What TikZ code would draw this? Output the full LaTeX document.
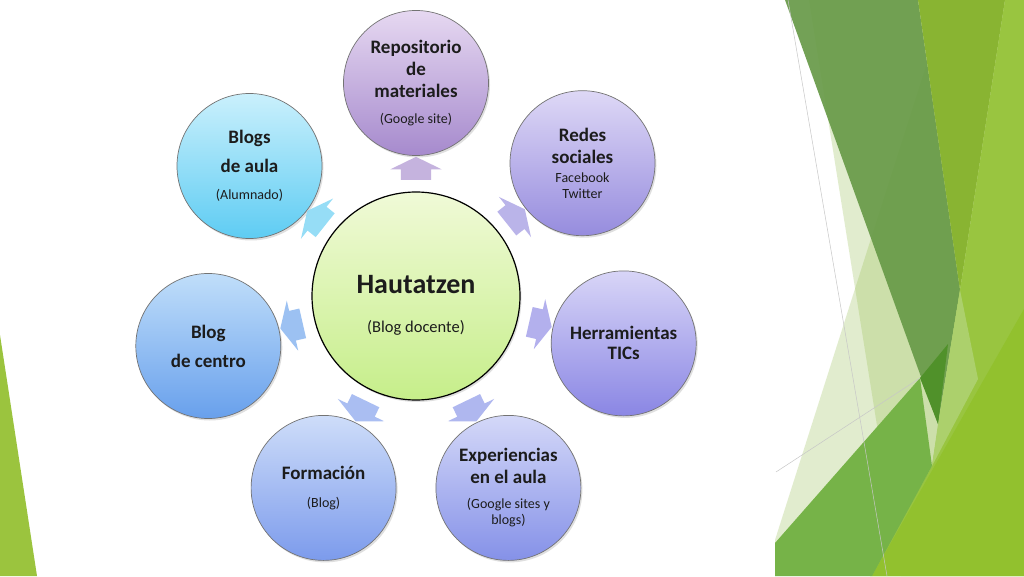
\documentclass[tikz,border=0pt]{standalone}
\usepackage{fontspec}
\setmainfont{Carlito}
\usetikzlibrary{shapes.arrows,shadows,calc}

\definecolor{inkgray}{RGB}{28,28,28}
\definecolor{hubtop}{RGB}{240,250,215}
\definecolor{hubbot}{RGB}{198,238,138}
\definecolor{repotop}{RGB}{230,216,241}
\definecolor{repobot}{RGB}{166,138,205}
\definecolor{redestop}{RGB}{222,216,246}
\definecolor{redesbot}{RGB}{150,140,222}
\definecolor{herrtop}{RGB}{216,213,247}
\definecolor{herrbot}{RGB}{138,134,228}
\definecolor{exptop}{RGB}{212,216,248}
\definecolor{expbot}{RGB}{133,145,232}
\definecolor{formtop}{RGB}{206,221,249}
\definecolor{formbot}{RGB}{124,155,236}
\definecolor{centrotop}{RGB}{192,222,250}
\definecolor{centrobot}{RGB}{104,160,236}
\definecolor{aulatop}{RGB}{202,240,252}
\definecolor{aulabot}{RGB}{94,204,243}
\definecolor{leafgreen}{RGB}{155,196,62}
\definecolor{palegreen}{RGB}{150,190,80}
\definecolor{bandgreen}{RGB}{104,154,72}
\definecolor{olivegreen}{RGB}{137,180,50}
\definecolor{brightgreen}{RGB}{153,197,64}
\definecolor{stripgreen}{RGB}{172,208,108}
\definecolor{lowgreen}{RGB}{146,193,46}
\definecolor{midgreen}{RGB}{118,179,72}
\definecolor{deepgreen}{RGB}{80,145,42}

\newcommand{\titletxt}{\fontsize{19}{22}\selectfont\bfseries}
\newcommand{\subtxt}{\fontsize{14}{17}\selectfont\mdseries}

\tikzset{
  satnode/.style={circle, minimum size=145pt, inner sep=0pt, align=center,
    draw=black!55, line width=0.7pt, text=inkgray, font=\titletxt,
    drop shadow={opacity=0.25, shadow xshift=1.5pt, shadow yshift=-2pt}},
  hubnode/.style={circle, minimum size=208pt, inner sep=0pt,
    draw=black, line width=1.2pt, top color=hubtop, bottom color=hubbot,
    drop shadow={opacity=0.25, shadow xshift=1.5pt, shadow yshift=-2pt}},
  flowarrow/.style={single arrow, minimum height=23pt, inner xsep=0pt, inner ysep=15pt,
    single arrow head extend=10.5pt, single arrow tip angle=128, draw=none, fill opacity=0.9}
}

\begin{document}
\begin{tikzpicture}[x=1pt, y=1pt]

\useasboundingbox (0,0) rectangle (1024,576);
\fill[white] (0,0) rectangle (1024,576);

% background facets
\fill[leafgreen] (0,241) -- (37,0) -- (0,0) -- cycle;
\fill[palegreen, opacity=0.28] (809,576) -- (1024,576) -- (1024,0) -- (901,0) -- cycle;
\fill[palegreen, opacity=0.28] (947,576) -- (1024,576) -- (1024,0) -- (775,0) -- (775,36) -- cycle;
\fill[bandgreen, opacity=0.92] (785,576) -- (918,576) -- (960,286) -- (938,152) -- cycle;
\fill[olivegreen] (918,576) -- (1005,576) -- (960,286) -- cycle;
\fill[brightgreen] (1005,576) -- (1024,576) -- (1024,0) -- (870,0) -- (932,110) -- (960,286) -- cycle;
\fill[stripgreen] (960,286) -- (978,197) -- (932,110) -- (938,152) -- cycle;
\fill[lowgreen] (1024,267) -- (1024,0) -- (872,0) -- cycle;
\fill[midgreen] (775,33) -- (920,198) -- (932,110) -- (872,0) -- (775,0) -- cycle;
\fill[deepgreen] (920,198) -- (948,232) -- (938,152) -- cycle;
\draw[black!22, line width=0.5pt] (788,576) -- (887,0);
\draw[black!22, line width=0.5pt] (776,104) -- (920,198);

% hub
\node[hubnode] (hub) at (416,280) {};
\node[align=center, text=inkgray, font=\fontsize{28}{32}\selectfont\bfseries] (hubtxt) at (416,271)
  {Hautatzen\\[7pt]{\fontsize{16.5}{20}\selectfont\mdseries (Blog docente)}};

% satellites
\node[satnode, top color=repotop, bottom color=repobot] (repo) at (416,493)
  {Repositorio\\de\\materiales\\[4pt]{\subtxt (Google site)}};
\node[satnode, top color=redestop, bottom color=redesbot] (redes) at (582.5,412.8)
  {Redes\\sociales\\[-3pt]{\subtxt Facebook}\\[-6pt]{\subtxt Twitter}};
\node[satnode, top color=herrtop, bottom color=herrbot] (herr) at (623.7,232.6)
  {Herramientas\\[-2pt]TICs};
\node[satnode, top color=exptop, bottom color=expbot] (exp) at (508.4,88.1)
  {Experiencias\\en el aula\\[3pt]{\subtxt (Google sites y}\\[-6pt]{\subtxt blogs)}};
\node[satnode, top color=formtop, bottom color=formbot] (form) at (323.6,88.1)
  {Formación\\[6pt]{\subtxt (Blog)}};
\node[satnode, top color=centrotop, bottom color=centrobot] (centro) at (208.3,230)
  {Blog\\[7pt]de centro};
\node[satnode, top color=aulatop, bottom color=aulabot] (aula) at (249.5,410)
  {Blogs\\[7pt]de aula\\[5pt]{\subtxt (Alumnado)}};

% arrows
\node[flowarrow, fill=repobot!72, rotate=90] (a-repo) at ($(hub)!0.582!(repo)$) {};
\node[flowarrow, fill=redesbot!72, rotate=38.57] (a-redes) at ($(hub)!0.582!(redes)$) {};
\node[flowarrow, fill=herrbot!72, rotate=-12.86] (a-herr) at ($(hub)!0.582!(herr)$) {};
\node[flowarrow, fill=expbot!72, rotate=-64.29] (a-exp) at ($(hub)!0.582!(exp)$) {};
\node[flowarrow, fill=formbot!72, rotate=-115.71] (a-form) at ($(hub)!0.582!(form)$) {};
\node[flowarrow, fill=centrobot!72, rotate=-167.14] (a-centro) at ($(hub)!0.582!(centro)$) {};
\node[flowarrow, fill=aulabot!72, rotate=141.43] (a-aula) at ($(hub)!0.582!(aula)$) {};

\end{tikzpicture}
\end{document}
